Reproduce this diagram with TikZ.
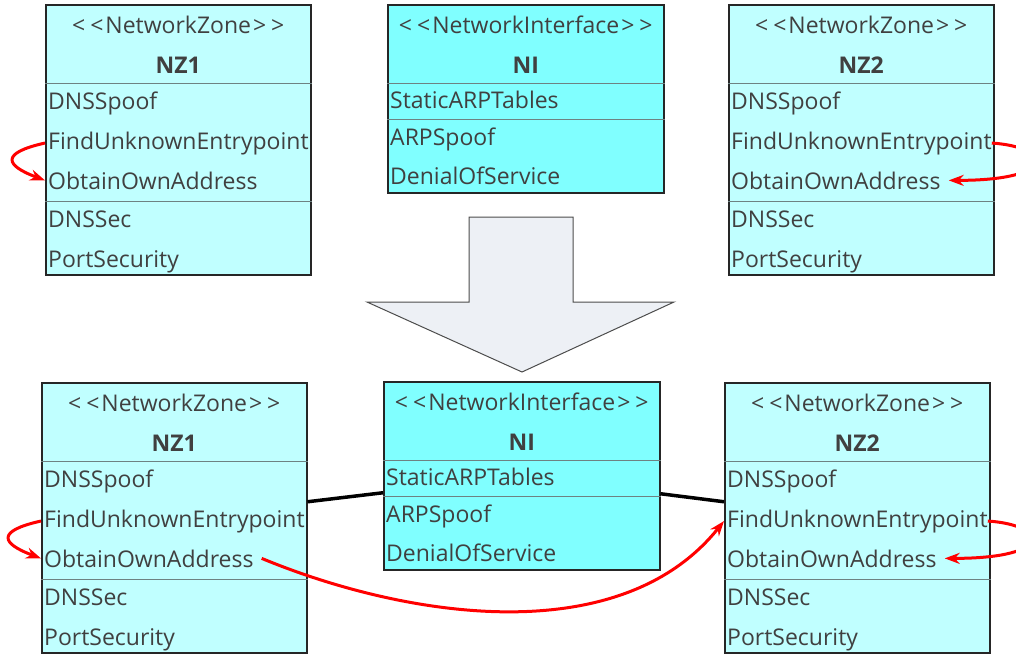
\documentclass[tikz,border=0pt]{standalone}
\usepackage{fontspec}
\setmainfont{Open Sans}
\usepackage{xcolor}
\usetikzlibrary{arrows.meta, calc}
\definecolor{zonecyan}{RGB}{192,255,255}
\definecolor{ifacecyan}{RGB}{128,255,255}
\definecolor{sepgray}{RGB}{110,130,130}
\definecolor{bigarrow}{RGB}{237,240,245}

\begin{document}
\begin{tikzpicture}[x=1pt, y=-1pt, >={Stealth[length=15pt, width=11pt]},
  every node/.style={font=\fontsize{23}{27}\selectfont, text=black!75, inner sep=0pt},
  classbox/.style={draw=black!85, line width=1.5pt, anchor=north west},
  sep/.style={draw=sepgray, line width=1pt},
  call/.style={->, draw=red, line width=3pt},
  link/.style={draw=black, line width=3.5pt}]
  \useasboundingbox (0,0) rectangle (1016,653);
  % network zones, before (top) and after (bottom)
  \foreach \nm/\x/\y/\title in {nz1top/45/4/NZ1, nz2top/728/4/NZ2, nz1bot/41/382/NZ1, nz2bot/724/382/NZ2} {
    \node[classbox, fill=zonecyan, minimum width=265, minimum height=270] (\nm) at (\x,\y) {};
    \node[anchor=base] (\nm-stereo) at ($(\nm.north)+(0,29)$) {<\kern5pt<\kern2pt NetworkZone\kern2pt>\kern5pt>};
    \node[anchor=base, font=\fontsize{23}{27}\selectfont\bfseries] (\nm-title) at ($(\nm.north)+(0,69)$) {\title};
    \draw[sep] ($(\nm.north west)+(0,79)$) -- ($(\nm.north east)+(0,79)$);
    \node[anchor=base west] (\nm-dns) at ($(\nm.north west)+(3,105)$) {DNSSpoof};
    \node[anchor=base west] (\nm-find) at ($(\nm.north west)+(3,145)$) {FindUnknownEntrypoint};
    \node[anchor=base west] (\nm-obtain) at ($(\nm.north west)+(3,185)$) {ObtainOwnAddress};
    \draw[sep] ($(\nm.north west)+(0,197)$) -- ($(\nm.north east)+(0,197)$);
    \node[anchor=base west] (\nm-sec) at ($(\nm.north west)+(3,223)$) {DNSSec};
    \node[anchor=base west] (\nm-port) at ($(\nm.north west)+(3,263)$) {PortSecurity};
  }
  % network interface
  \foreach \nm/\x/\y in {nitop/387/4, nibot/383/381} {
    \node[classbox, fill=ifacecyan, minimum width=276, minimum height=188] (\nm) at (\x,\y) {};
    \node[anchor=base] (\nm-stereo) at ($(\nm.north)+(0,29)$) {<\kern5pt<\kern2pt NetworkInterface\kern2pt>\kern5pt>};
    \node[anchor=base, font=\fontsize{23}{27}\selectfont\bfseries] (\nm-title) at ($(\nm.north)+(0,69)$) {NI};
    \draw[sep] ($(\nm.north west)+(0,79)$) -- ($(\nm.north east)+(0,79)$);
    \node[anchor=base west] (\nm-static) at ($(\nm.north west)+(3,104)$) {StaticARPTables};
    \draw[sep] ($(\nm.north west)+(0,115)$) -- ($(\nm.north east)+(0,115)$);
    \node[anchor=base west] (\nm-arp) at ($(\nm.north west)+(3,141)$) {ARPSpoof};
    \node[anchor=base west] (\nm-dos) at ($(\nm.north west)+(3,180)$) {DenialOfService};
  }
  % transformation arrow
  \draw[draw=black!70, line width=1pt, fill=bigarrow] (469,217) -- (573,217) -- (573,302) -- (674,302)
    -- (522,372) -- (367,302) -- (469,302) -- cycle;
  % associations
  \draw[link] ([yshift=16pt]nz1bot.east) -- ([yshift=-17pt]nibot.west);
  \draw[link] ([yshift=-18pt]nibot.east) -- ([yshift=16pt]nz2bot.west);
  % attack steps
  \draw[call] (nz1top.west |- nz1top-find) .. controls +(-45,10) and +(-40,-15) .. (nz1top.west |- nz1top-obtain);
  \draw[call] (nz2top-find.east) .. controls +(60,4) and +(110,0) .. ([xshift=8pt]nz2top-obtain.east);
  \draw[call] (nz1bot.west |- nz1bot-find) .. controls +(-45,10) and +(-40,-15) .. (nz1bot.west |- nz1bot-obtain);
  \draw[call] (nz2bot-find.east) .. controls +(60,4) and +(110,0) .. ([xshift=8pt]nz2bot-obtain.east);
  \draw[call] ([xshift=8pt]nz1bot-obtain.east) .. controls +(145,60) and +(-104,130) .. (nz2bot.west |- nz2bot-find);
\end{tikzpicture}
\end{document}
